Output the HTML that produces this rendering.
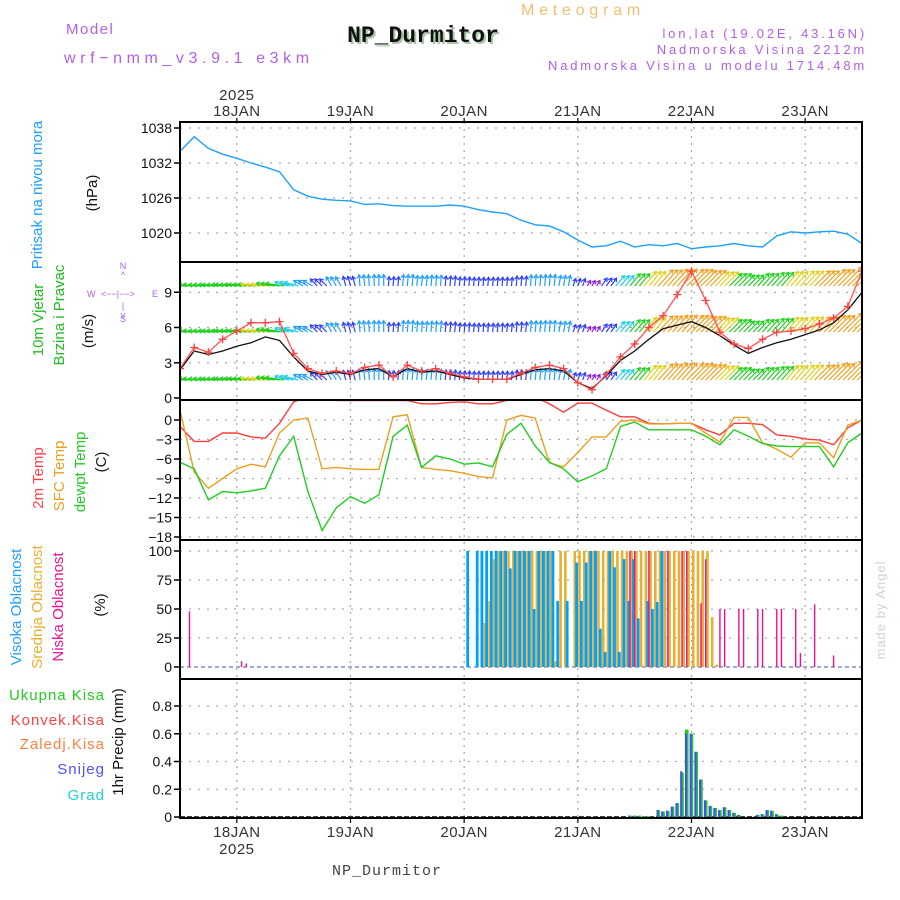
<!DOCTYPE html>
<html><head><meta charset="utf-8"><title>Meteogram NP_Durmitor</title>
<style>
html,body{margin:0;padding:0;background:#fff;}
svg{display:block;font-family:"Liberation Sans",sans-serif;}
</style></head>
<body>
<svg id="chart" width="900" height="900" viewBox="0 0 900 900" xmlns="http://www.w3.org/2000/svg">
<defs>
<clipPath id="clipP"><rect x="180" y="122" width="682" height="140"/></clipPath>
<clipPath id="clipW"><rect x="180" y="262" width="682" height="138"/></clipPath>
<clipPath id="clipT"><rect x="180" y="400" width="682" height="140"/></clipPath>
<clipPath id="clipC"><rect x="180" y="540" width="682" height="139"/></clipPath>
<clipPath id="clipR"><rect x="180" y="679" width="682" height="139"/></clipPath>
</defs>
<!-- header -->
<text x="66" y="34" font-size="15" fill="#b060e8" letter-spacing="1.5">Model</text>
<text x="64" y="63" font-size="16" fill="#b060e8" letter-spacing="4.6">wrf−nmm_v3.9.1 e3km</text>
<text x="425" y="44" font-size="23" font-weight="bold" font-family="Liberation Mono,monospace" fill="#a8c8a8" text-anchor="middle">NP_Durmitor</text>
<text x="423" y="42" font-size="23" font-weight="bold" font-family="Liberation Mono,monospace" fill="#111" text-anchor="middle">NP_Durmitor</text>
<text x="583" y="15" font-size="16" fill="#f0c070" text-anchor="middle" letter-spacing="4.8">Meteogram</text>
<text x="867" y="38" font-size="13" fill="#b060e8" text-anchor="end" letter-spacing="2.8">lon,lat (19.02E, 43.16N)</text>
<text x="867" y="54" font-size="13" fill="#b060e8" text-anchor="end" letter-spacing="2.8">Nadmorska Visina 2212m</text>
<text x="867" y="70" font-size="13" fill="#b060e8" text-anchor="end" letter-spacing="2.8">Nadmorska Visina u modelu 1714.48m</text>

<!-- left panel labels -->
<text transform="translate(42,195) rotate(-90)" font-size="15" fill="#1ea0ff" text-anchor="middle">Pritisak na nivou mora</text>
<text transform="translate(97,193) rotate(-90)" font-size="15" fill="#111" text-anchor="middle">(hPa)</text>
<text transform="translate(43,320) rotate(-90)" font-size="15" fill="#22bb22" text-anchor="middle">10m Vjetar</text>
<text transform="translate(64,315) rotate(-90)" font-size="15" fill="#22bb22" text-anchor="middle">Brzina i Pravac</text>
<text transform="translate(93,331) rotate(-90)" font-size="15" fill="#111" text-anchor="middle">(m/s)</text>
<g font-size="9" fill="#b060e8" stroke="none">
<text x="123" y="269" text-anchor="middle">N</text>
<text x="123" y="278" text-anchor="middle">^</text>
<text x="87" y="297">W</text>
<text x="101" y="297">&lt;−−|−−&gt;</text>
<text x="152" y="297">E</text>
<text x="123" y="309" text-anchor="middle">|</text>
<text x="123" y="318" text-anchor="middle">v</text>
<text x="123" y="322" text-anchor="middle">S</text>
</g>
<text transform="translate(43,478) rotate(-90)" font-size="15" fill="#ff4040" text-anchor="middle">2m Temp</text>
<text transform="translate(64,476) rotate(-90)" font-size="15" fill="#e8a020" text-anchor="middle">SFC Temp</text>
<text transform="translate(85,472) rotate(-90)" font-size="15" fill="#22cc22" text-anchor="middle">dewpt Temp</text>
<text transform="translate(106,462) rotate(-90)" font-size="15" fill="#111" text-anchor="middle">(C)</text>
<text transform="translate(21,607) rotate(-90)" font-size="15" fill="#1ea0ff" text-anchor="middle">Visoka Oblacnost</text>
<text transform="translate(42,607) rotate(-90)" font-size="15" fill="#e8b030" text-anchor="middle">Srednja Oblacnost</text>
<text transform="translate(63,607) rotate(-90)" font-size="15" fill="#ee1090" text-anchor="middle">Niska Oblacnost</text>
<text transform="translate(105,605) rotate(-90)" font-size="15" fill="#111" text-anchor="middle">(%)</text>
<g font-size="15" text-anchor="end" letter-spacing="1">
<text x="105" y="700" fill="#22cc22">Ukupna  Kisa</text>
<text x="105" y="725" fill="#ff4040">Konvek.Kisa</text>
<text x="105" y="749" fill="#ff8040">Zaledj.Kisa</text>
<text x="105" y="774" fill="#5050ff">Snijeg</text>
<text x="105" y="800" fill="#20d0d0">Grad</text>
</g>
<text transform="translate(123,742) rotate(-90)" font-size="15" fill="#111" text-anchor="middle">1hr Precip (mm)</text>

<text x="387" y="875" font-size="15" font-family="Liberation Mono,monospace" fill="#444" text-anchor="middle" letter-spacing="1">NP_Durmitor</text>
<text transform="translate(885,610) rotate(-90)" font-size="13" fill="#c8d8c8" text-anchor="middle" letter-spacing="1">made by Angel</text>

<g id="grid"></g>
<g id="marks"></g>
<g id="axes"></g>
</svg>
<script>
// ---------- data (3-hourly from 17 Jan 12Z, 49 points) ----------
const dayLabels = ["18JAN","19JAN","20JAN","21JAN","22JAN","23JAN"];
const dayHours = [12,36,60,84,108,132];
const pressureTicks = [1020,1026,1032,1038];
const windTicks = [0,3,6,9];
const tempTicks = [0,-3,-6,-9,-12,-15,-18];
const cloudTicks = [0,25,50,75,100];
const precipTicks = [0,0.2,0.4,0.6,0.8];
const precipTickLabels = ["0","0.2","0.4","0.6","0.8"];

const pressure = [1034,1036.5,1034.5,1033.5,1032.8,1032,1031.3,1030.5,1027.4,1026.3,1025.8,1025.6,1025.5,1024.9,1025,1024.7,1024.6,1024.6,1024.6,1024.8,1024.6,1024,1023.6,1023.3,1022.2,1021.4,1021.2,1020.2,1018.8,1017.6,1017.8,1018.6,1017.6,1018,1017.8,1018.2,1017.3,1017.6,1017.8,1018.2,1017.8,1017.6,1019.5,1020.2,1020,1020.2,1020.3,1019.8,1018.2];
const windGust = [2.5,4.3,3.9,5.0,5.7,6.4,6.4,6.5,3.8,2.5,2.1,2.3,2.1,2.6,2.8,1.8,2.8,2.3,2.5,2.1,1.8,1.6,1.6,1.6,2.1,2.6,2.8,2.5,1.3,0.7,2.0,3.5,4.6,6.0,7.0,8.8,10.8,8.3,5.6,4.6,4.2,5.0,5.6,5.7,5.9,6.3,6.8,7.8,10.8];
const windSpeed = [2.4,4.0,3.7,4.0,4.4,4.7,5.2,4.9,3.5,2.3,2.0,2.2,2.0,2.4,2.5,1.8,2.5,2.2,2.3,2.0,1.7,1.6,1.6,1.6,2.0,2.4,2.5,2.3,1.3,0.8,1.9,3.2,4.0,5.0,5.9,6.2,6.5,6.0,5.3,4.5,3.8,4.3,4.7,5.0,5.4,5.8,6.4,7.5,9.0];
const windDir = [175,175,175,175,175,175,175,172,165,150,135,120,105,95,90,85,85,85,85,85,85,85,85,85,85,85,85,80,70,60,55,50,50,50,48,48,45,45,45,45,45,48,48,50,48,45,45,45,45];
const temp2m = [-1.0,-3.3,-3.3,-2.0,-2.0,-2.6,-2.8,-0.5,2.8,3.5,3.5,3.0,3.0,3.0,3.0,3.0,3.0,2.5,2.5,2.7,2.8,2.5,2.5,3.0,3.5,3.5,2.5,1.2,2.6,2.6,1.5,0.5,0.5,-0.5,-0.6,-0.5,-0.5,-1.5,-2.3,-0.5,-0.5,-0.7,-2.3,-2.5,-2.9,-3.1,-3.8,-1.2,0.0];
const tempSfc = [1.5,-8.0,-10.5,-9.0,-7.5,-6.8,-7.2,-2.0,0.0,0.3,-7.5,-7.3,-7.5,-7.6,-7.6,0.5,0.8,-7.3,-7.6,-7.8,-8.2,-8.7,-8.9,0.0,0.7,0.3,-6.6,-7.2,-5.0,-2.6,-2.6,-0.2,0.0,-0.6,-0.6,-0.5,-0.5,-2.0,-3.4,0.4,0.4,-3.5,-4.5,-5.7,-3.5,-3.5,-5.8,-0.8,0.0];
const tempDew = [-6.5,-7.5,-12.3,-11.0,-11.2,-10.9,-10.5,-5.5,-2.5,-11.0,-17.0,-13.5,-11.8,-12.8,-11.5,-2.5,-0.8,-7.3,-5.5,-6.0,-6.8,-6.6,-7.2,-2.2,-0.5,-4.0,-6.5,-7.5,-9.5,-8.6,-7.5,-1.0,-0.3,-1.5,-1.5,-1.5,-1.5,-2.5,-3.8,-1.5,-2.5,-3.6,-4.0,-4.1,-4.1,-4.1,-7.2,-3.5,-2.0];

// hourly cloud cover (%) from hour 0 to 144
const cloudHigh = [0,0,0,0,0,0,0,0,0,0,0,0,0,0,0,0,0,0,0,0,0,0,0,0,0,0,0,0,0,0,0,0,0,0,0,0,0,0,0,0,0,0,0,0,0,0,0,0,0,0,0,0,0,0,0,0,0,0,0,0,0,100,0,100,100,100,100,100,100,100,85,100,100,100,100,50,100,100,100,100,57,0,57,0,90,57,90,100,100,33,13,100,86,13,93,57,93,42,0,57,50,56,100,0,0,0,0,0,0,0,0,0,0,0,0,0,0,0,0,0,0,0,0,0,0,0,0,0,0,0,0,0,0,0,0,0,0,0,0,0,0,0,0,0,0];
const cloudMid = [0,0,0,0,0,0,0,0,0,0,0,0,0,0,0,0,0,0,0,0,0,0,0,0,0,0,0,0,0,0,0,0,0,0,0,0,0,0,0,0,0,0,0,0,0,0,0,0,0,0,0,0,0,0,0,0,0,0,0,0,0,0,0,0,38,57,93,100,100,100,100,100,100,100,100,100,100,100,100,5,100,100,0,100,100,100,100,100,100,100,100,100,100,100,100,100,100,100,100,100,100,100,100,100,100,100,100,100,100,100,100,100,43,2,0,0,0,0,0,0,0,0,0,0,0,0,0,0,0,0,0,0,0,0,0,0,0,0,0,0,0];
const cloudLow = [0,0,48,0,0,0,0,0,0,0,0,0,0,5,3,0,0,0,0,0,0,0,0,0,0,0,0,0,0,0,0,0,0,0,0,0,0,0,0,0,0,0,0,0,0,0,0,0,0,0,0,0,0,0,0,0,0,0,0,0,0,0,0,0,0,0,0,0,0,0,0,0,0,0,0,0,0,0,0,0,0,0,0,0,0,0,0,0,0,0,0,0,0,0,0,100,100,0,0,100,0,0,0,100,0,0,100,100,0,0,55,93,0,0,50,50,0,0,50,50,0,0,50,50,0,0,50,50,0,0,50,12,0,0,54,0,0,0,10,0,0,0,0,0,0];

// hourly precipitation (mm), hours 0..144
const precipTotal = [0,0,0,0,0,0,0,0,0,0,0,0,0,0,0,0,0,0,0,0,0,0,0,0,0,0,0,0,0,0,0,0,0,0,0,0,0,0,0,0,0,0,0,0,0,0,0,0,0,0,0,0,0,0,0,0,0,0,0,0,0,0,0,0,0,0,0,0,0,0,0,0,0,0,0,0,0,0,0,0,0,0,0,0,0,0,0,0,0,0,0,0,0,0,0,0.01,0.01,0.01,0.005,0.005,0,0.05,0.04,0.045,0.075,0.1,0.32,0.63,0.6,0.47,0.27,0.12,0.08,0.065,0.05,0.07,0.05,0.03,0.015,0,0,0,0.015,0.02,0.05,0.045,0.02,0.01,0,0,0,0,0,0,0,0,0,0,0,0,0,0,0,0,0,0,0];
const precipSnow = [0,0,0,0,0,0,0,0,0,0,0,0,0,0,0,0,0,0,0,0,0,0,0,0,0,0,0,0,0,0,0,0,0,0,0,0,0,0,0,0,0,0,0,0,0,0,0,0,0,0,0,0,0,0,0,0,0,0,0,0,0,0,0,0,0,0,0,0,0,0,0,0,0,0,0,0,0,0,0,0,0,0,0,0,0,0,0,0,0,0,0,0,0,0,0,0.01,0.005,0.005,0,0,0,0.05,0.04,0.045,0.075,0.1,0.33,0.6,0.6,0.47,0.27,0.12,0.08,0.065,0.05,0.07,0.05,0.03,0.015,0,0,0,0.015,0.02,0.05,0.045,0.02,0,0,0,0,0,0,0,0,0,0,0,0,0,0,0,0,0,0,0];

// ---------- scales ----------
const X0=180, X1=862, HOURS=144;
function xH(h){return X0 + h*(X1-X0)/HOURS;}
function yP(p){return 128 + (1038-p)*5.833;}
function yW(v){return 398 - v*11.75;}
function yT(t){return 420 - t*6.5;}
function yC(c){return 667 - c*1.16;}
function yR(r){return 817 - r*138.75;}

const NS="http://www.w3.org/2000/svg";
function mk(tag, attrs, parent){
  const e=document.createElementNS(NS,tag);
  for(const k in attrs) e.setAttribute(k,attrs[k]);
  parent.appendChild(e); return e;
}
const grid=document.getElementById('grid');
const marks=document.getElementById('marks');
const axes=document.getElementById('axes');

// ---------- grid ----------
const panels=[[122,262],[262,400],[400,540],[540,679],[679,818]];
dayHours.forEach(function(h){
  const l=mk('line',{x1:xH(h),x2:xH(h),y1:122,y2:818,stroke:'#aaa','stroke-width':1.3,'stroke-dasharray':'2,5'},grid);
  
  
});
function hgrid(vals, f, name){
  vals.forEach(function(v){
    const l=mk('line',{x1:X0,x2:X1,y1:f(v),y2:f(v),stroke:'#aaa','stroke-width':1.3,'stroke-dasharray':'2,7'},grid);
    
    
  });
}
hgrid(pressureTicks,yP,'pressure-gridline');
hgrid(windTicks.slice(1),yW,'wind-gridline');
hgrid(tempTicks,yT,'temp-gridline');
hgrid(cloudTicks.slice(1),yC,'cloud-gridline');
hgrid(precipTicks.slice(1),yR,'precip-gridline');

// ---------- axes ----------
function yticks(vals, labels, f, name){
  vals.forEach(function(v,i){
    const y=f(v);
    const t=mk('line',{x1:X0-6,x2:X0,y1:y,y2:y,stroke:'#000','stroke-width':1.5},axes);
    
    
    const tx=mk('text',{x:X0-8,y:y+5,'font-size':14,'text-anchor':'end',fill:'#111'},axes);
    
    
    tx.textContent=labels[i];
  });
}
yticks(pressureTicks,pressureTicks.map(String),yP,'pressure');
yticks(windTicks,windTicks.map(String),yW,'wind');
yticks(tempTicks,tempTicks.map(function(v){return v<0?'−'+(-v):String(v);}),yT,'temp');
yticks(cloudTicks,cloudTicks.map(String),yC,'cloud');
yticks(precipTicks,precipTickLabels,yR,'precip');

dayHours.forEach(function(h,i){
  const x=xH(h);
  const t1=mk('line',{x1:x,x2:x,y1:118,y2:123,stroke:'#000','stroke-width':1.2},axes);
  
  
  const lb=mk('text',{x:x,y:116,'font-size':15,'text-anchor':'middle',fill:'#333','letter-spacing':0.5},axes);
  
  
  lb.textContent=dayLabels[i];
  const t2=mk('line',{x1:x,x2:x,y1:818,y2:823,stroke:'#000','stroke-width':1.2},axes);
  
  
  const lb2=mk('text',{x:x,y:837,'font-size':15,'text-anchor':'middle',fill:'#333','letter-spacing':0.5},axes);
  
  
  lb2.textContent=dayLabels[i];
});
const yr1=mk('text',{x:xH(dayHours[0]),y:100,'font-size':15,'text-anchor':'middle',fill:'#333','letter-spacing':0.5},axes);


yr1.textContent='2025';
const yr2=mk('text',{x:xH(dayHours[0]),y:854,'font-size':15,'text-anchor':'middle',fill:'#333','letter-spacing':0.5},axes);


yr2.textContent='2025';

panels.forEach(function(p,i){
  const r=mk('rect',{x:X0,y:p[0],width:X1-X0,height:p[1]-p[0],fill:'none',stroke:'#000','stroke-width':2},axes);
  
  
});

// ---------- helpers ----------
function line(vals, f, color, clip, name, w){
  const pts=vals.map(function(v,i){return xH(i*3).toFixed(1)+','+f(v).toFixed(1);}).join(' ');
  const pl=mk('polyline',{points:pts,fill:'none',stroke:color,'stroke-width':w||1.4,'clip-path':'url(#'+clip+')'},marks);
  
  
  return pl;
}

// pressure
line(pressure,yP,'#1ea0ff','clipP','pressure-line');

// wind arrows
function windColor(s){
  if(s<1.3) return '#9020e0';
  if(s<2.2) return '#3040ff';
  if(s<2.8) return '#20a0ff';
  if(s<3.6) return '#20d0e0';
  if(s<5.0) return '#20d020';
  if(s<5.8) return '#e0d020';
  return '#f0a020';
}
const rowBases=[286,332,380];
const windG=mk('g',{'clip-path':'url(#clipW)'},marks);


for(let h=0; h<=HOURS; h++){
  const i=Math.round(h/3);
  const s=windSpeed[i], d=windDir[i]*Math.PI/180;
  const L=Math.min(30, 4+s*3);
  const col=windColor(s);
  rowBases.forEach(function(by){
    const x0=xH(h), y0=by;
    const x1=x0+L*Math.cos(d), y1=y0-L*Math.sin(d);
    const a1=d+Math.PI*0.82, a2=d-Math.PI*0.82;
    const p='M'+x0.toFixed(1)+','+y0.toFixed(1)+'L'+x1.toFixed(1)+','+y1.toFixed(1)+
      'M'+(x1+4*Math.cos(a1)).toFixed(1)+','+(y1-4*Math.sin(a1)).toFixed(1)+'L'+x1.toFixed(1)+','+y1.toFixed(1)+
      'L'+(x1+4*Math.cos(a2)).toFixed(1)+','+(y1-4*Math.sin(a2)).toFixed(1);
    const a=mk('path',{d:p,stroke:col,'stroke-width':1.2,fill:'none'},windG);
    
    
  });
}
line(windSpeed,yW,'#111','clipW','wind-speed-line',1.3);
line(windGust,yW,'#ff5050','clipW','wind-gust-line',1.3);
windGust.forEach(function(v,i){
  const x=xH(i*3), y=yW(v);
  const m=mk('path',{d:'M'+(x-4)+','+y+'h8M'+x+','+(y-4)+'v8',stroke:'#ff4040','stroke-width':1.3,'clip-path':'url(#clipW)'},marks);
  
  
});

// temperatures
line(temp2m,yT,'#ff3b3b','clipT','temp-2m-line');
line(tempSfc,yT,'#e8a020','clipT','temp-sfc-line');
line(tempDew,yT,'#22cc22','clipT','temp-dewpoint-line');

// clouds
const z1=mk('line',{x1:X0,x2:X1,y1:yC(0),y2:yC(0),stroke:'#8090c0','stroke-width':1.5,'stroke-dasharray':'4,3'},marks);


for(let h=0; h<=HOURS; h++){
  const x=xH(h);
  if(cloudHigh[h]>0){
    const b=mk('rect',{x:x-2.6,y:yC(cloudHigh[h]),width:2.8,height:yC(0)-yC(cloudHigh[h]),fill:'#00a0ff'},marks);
    
    
  }
  if(cloudMid[h]>0){
    const b=mk('rect',{x:x+0.4,y:yC(cloudMid[h]),width:2.6,height:yC(0)-yC(cloudMid[h]),fill:'#e8b030'},marks);
    
    
  }
  if(cloudLow[h]>0){
    const b=mk('rect',{x:x-0.7,y:yC(cloudLow[h]),width:1.4,height:yC(0)-yC(cloudLow[h]),fill:'#ee1090'},marks);
    
    
  }
}

// precipitation
const z2=mk('line',{x1:X0,x2:X1,y1:yR(0),y2:yR(0),stroke:'#000','stroke-width':1.5,'stroke-dasharray':'5,2'},marks);


for(let h=0; h<=HOURS; h++){
  const x=xH(h);
  if(precipTotal[h]>0){
    const b=mk('rect',{x:x-1.8,y:yR(precipTotal[h]),width:3.6,height:yR(0)-yR(precipTotal[h]),fill:'#22cc22'},marks);
    
    
  }
  if(precipSnow[h]>0){
    const b=mk('rect',{x:x-1.8,y:yR(precipSnow[h]),width:2,height:yR(0)-yR(precipSnow[h]),fill:'#4848ff'},marks);
    
    
  }
}
</script>
</body></html>
